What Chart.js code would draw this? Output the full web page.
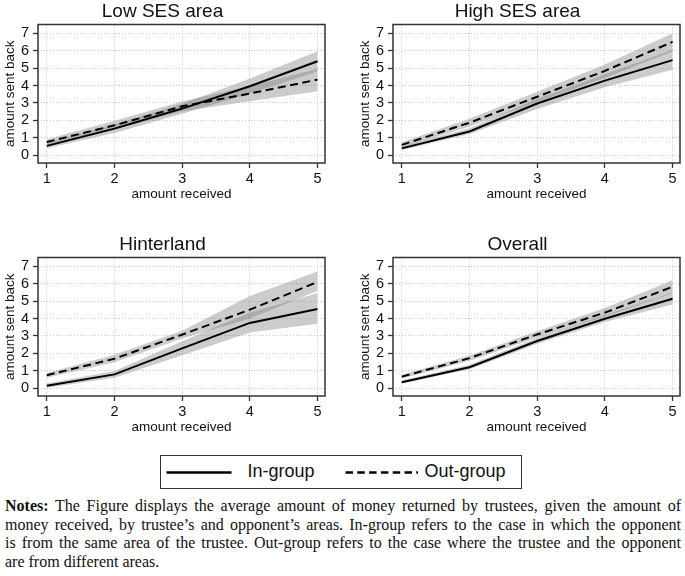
<!DOCTYPE html>
<html>
<head>
<meta charset="utf-8">
<script src="https://cdn.jsdelivr.net/npm/chart.js@4.4.0/dist/chart.umd.min.js"></script>
<style>
body { margin: 0; background: #fff; width: 685px; height: 576px; position: relative; overflow: hidden;
       font-family: "Liberation Sans", Arial, sans-serif; }
.panel { position: absolute; width: 330px; height: 207px; }
#legend { position: absolute; left: 160px; top: 455px; width: 362px; height: 34px; box-sizing: border-box;
          border: 1.5px solid #333; }
#legend span { position: absolute; top: 0; line-height: 31px; font-size: 18px; color: #111; }
#legend svg { position: absolute; left: 0; top: 0; }
#notes { position: absolute; left: 5px; top: 497px; width: 676px; font-family: "Liberation Serif", serif;
         font-size: 16px; line-height: 18.7px; color: #111; }
#notes div { white-space: nowrap; }
#notes .j { text-align: justify; text-align-last: justify; }
</style>
</head>
<body>
<div class="panel" style="left:0;top:0"><canvas id="c0" width="330" height="207"></canvas></div>
<div class="panel" style="left:355px;top:0"><canvas id="c1" width="330" height="207"></canvas></div>
<div class="panel" style="left:0;top:232.5px"><canvas id="c2" width="330" height="207"></canvas></div>
<div class="panel" style="left:355px;top:232.5px"><canvas id="c3" width="330" height="207"></canvas></div>

<div id="legend">
  <svg width="359" height="31">
    <line x1="5.5" y1="16.5" x2="70.5" y2="16.5" stroke="#000" stroke-width="2.5"/>
    <line x1="184.5" y1="16.5" x2="257" y2="16.5" stroke="#000" stroke-width="2.5" stroke-dasharray="7.5 4.3"/>
  </svg>
  <span style="left:86.5px">In-group</span>
  <span style="left:263.5px">Out-group</span>
</div>

<div id="notes">
  <div class="j"><b>Notes:</b> The Figure displays the average amount of money returned by trustees, given the amount of</div>
  <div class="j">money received, by trustee’s and opponent’s areas. In-group refers to the case in which the opponent</div>
  <div class="j">is from the same area of the trustee. Out-group refers to the case where the trustee and the opponent</div>
  <div>are from different areas.</div>
</div>

<script>
// amount received (x) and axis ticks
var received = [1, 2, 3, 4, 5];
var sentTicks = [0, 1, 2, 3, 4, 5, 6, 7];
var panelTitles = ['Low SES area', 'High SES area', 'Hinterland', 'Overall'];

// Low SES area
var lowIn    = [0.54, 1.53, 2.68, 3.96, 5.39];
var lowInLo  = [0.40, 1.28, 2.38, 3.55, 4.80];
var lowInHi  = [0.70, 1.78, 2.95, 4.40, 5.97];
var lowOut   = [0.76, 1.72, 2.81, 3.54, 4.34];
var lowOutLo = [0.60, 1.48, 2.52, 3.10, 3.68];
var lowOutHi = [0.92, 1.98, 3.08, 3.98, 4.95];

// High SES area
var highIn    = [0.40, 1.37, 2.97, 4.28, 5.46];
var highInLo  = [0.30, 1.22, 2.65, 3.90, 4.90];
var highInHi  = [0.52, 1.55, 3.25, 4.65, 6.05];
var highOut   = [0.60, 1.87, 3.36, 4.84, 6.50];
var highOutLo = [0.45, 1.65, 3.05, 4.45, 5.95];
var highOutHi = [0.75, 2.10, 3.65, 5.20, 7.00];

// Hinterland
var hintIn    = [0.15, 0.80, 2.29, 3.75, 4.55];
var hintInLo  = [0.03, 0.60, 1.90, 3.20, 3.70];
var hintInHi  = [0.28, 1.00, 2.70, 4.35, 5.45];
var hintOut   = [0.75, 1.70, 3.08, 4.51, 6.10];
var hintOutLo = [0.60, 1.50, 2.85, 4.00, 5.60];
var hintOutHi = [0.88, 1.92, 3.30, 5.30, 6.70];

// Overall
var allIn    = [0.35, 1.21, 2.71, 3.99, 5.14];
var allInLo  = [0.27, 1.10, 2.55, 3.80, 4.80];
var allInHi  = [0.45, 1.35, 2.88, 4.20, 5.50];
var allOut   = [0.67, 1.73, 3.09, 4.34, 5.82];
var allOutLo = [0.57, 1.58, 2.92, 4.12, 5.45];
var allOutHi = [0.78, 1.88, 3.27, 4.60, 6.20];

var panels = [
  [lowIn, lowInLo, lowInHi, lowOut, lowOutLo, lowOutHi],
  [highIn, highInLo, highInHi, highOut, highOutLo, highOutHi],
  [hintIn, hintInLo, hintInHi, hintOut, hintOutLo, hintOutHi],
  [allIn, allInLo, allInHi, allOut, allOutLo, allOutHi]
];

var font = '"Liberation Sans", Arial, sans-serif';
var bandColor = 'rgba(120,120,120,0.38)';

function pts(arr) {
  return arr.map(function (y, i) { return { x: received[i], y: y }; });
}

function lineSet(arr, dash) {
  return { data: pts(arr), borderColor: '#000', borderWidth: 2, borderDash: dash,
           pointRadius: 0, fill: false, tension: 0 };
}

function edgeSet(arr, fill) {
  return { data: pts(arr), borderColor: 'rgba(0,0,0,0)', borderWidth: 1, pointRadius: 0,
           fill: fill, backgroundColor: bandColor, tension: 0 };
}

// dark frame round the plot region (Stata style)
var frame = {
  id: 'frame',
  afterDatasetsDraw: function (chart) {
    var a = chart.chartArea, c = chart.ctx;
    c.save();
    c.strokeStyle = '#333';
    c.lineWidth = 1.5;
    c.strokeRect(a.left, a.top, a.right - a.left, a.bottom - a.top);
    c.restore();
  }
};

panels.forEach(function (p, k) {
  var ctx = document.getElementById('c' + k).getContext('2d');
  new Chart(ctx, {
    type: 'line',
    data: {
      datasets: [
        lineSet(p[0], []),
        lineSet(p[3], [8, 4.5]),
        edgeSet(p[1], false),
        edgeSet(p[2], '-1'),
        edgeSet(p[4], false),
        edgeSet(p[5], '-1')
      ]
    },
    options: {
      responsive: false,
      animation: false,
      layout: { padding: { left: 0, right: 5, top: 0, bottom: 0 } },
      plugins: {
        legend: { display: false },
        tooltip: { enabled: false },
        title: { display: true, text: panelTitles[k], color: '#111',
                 font: { family: font, size: 19, weight: 'normal' },
                 padding: { top: 0, bottom: 1.7 } }
      },
      scales: {
        x: {
          type: 'linear', min: 0.87, max: 5.11,
          afterBuildTicks: function (s) { s.ticks = received.map(function (v) { return { value: v }; }); },
          afterFit: function (s) { s.height = 44; },
          grid: { color: '#c4c4c4', lineWidth: 1, tickColor: '#333', tickLength: 5, tickWidth: 1.3 },
          border: { display: false, dash: [1, 2] },
          ticks: { color: '#111', font: { family: font, size: 14.5 }, padding: 2, maxRotation: 0, autoSkip: false },
          title: { display: true, text: 'amount received', color: '#111',
                   font: { family: font, size: 13.5 }, padding: { top: 0, bottom: 5 } }
        },
        y: {
          min: -0.44, max: 7.5,
          afterBuildTicks: function (s) { s.ticks = sentTicks.map(function (v) { return { value: v }; }); },
          afterFit: function (s) { s.width = 38; },
          grid: { color: '#c4c4c4', lineWidth: 1, tickColor: '#333', tickLength: 5, tickWidth: 1.3 },
          border: { display: false, dash: [1, 2] },
          ticks: { color: '#111', font: { family: font, size: 14.5 }, padding: 4, autoSkip: false },
          title: { display: true, text: 'amount sent back', color: '#111',
                   font: { family: font, size: 13.5 }, padding: { top: 2, bottom: 0 } }
        }
      }
    },
    plugins: [frame]
  });
});
</script>
</body>
</html>
